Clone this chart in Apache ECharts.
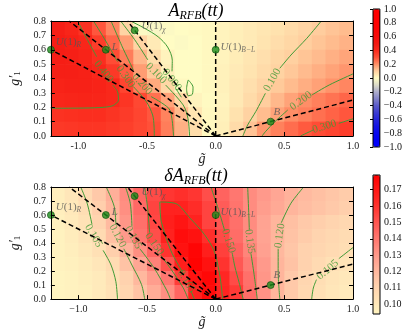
<!DOCTYPE html>
<html>
<head>
<meta charset="utf-8">
<script src="https://cdn.jsdelivr.net/npm/echarts@6/dist/echarts.min.js"></script>
<style>html,body{margin:0;padding:0;background:#fff}#main{width:405px;height:330px}</style>
</head>
<body>
<div id="main"></div>
<script>
// cell centres of the two maps (x = g~, y = g'_1), rows from top to bottom
var gx = [-1.15, -1.05, -0.95, -0.85, -0.75, -0.65, -0.55, -0.45, -0.35, -0.25, -0.15,
          -0.05, 0.05, 0.15, 0.25, 0.35, 0.45, 0.55, 0.65, 0.75, 0.85, 0.95];
var gy = [0.75, 0.65, 0.55, 0.45, 0.35, 0.25, 0.15, 0.05];

// A_RFB(tt)
var aTop = [
  [0.46,0.43,0.38,0.29,0.215,0.09,-0.01,-0.02,-0.01,0.0,0.005,0.01,0.02,0.03,0.04,0.05,0.06,0.075,0.09,0.104,0.118,0.132],
  [0.47,0.45,0.42,0.35,0.265,0.18,0.09,0.04,0.0,-0.01,0.0,0.01,0.02,0.03,0.04,0.055,0.07,0.085,0.102,0.117,0.132,0.147],
  [0.47,0.46,0.44,0.39,0.31,0.23,0.14,0.07,0.02,0.0,0.0,0.01,0.02,0.035,0.05,0.065,0.085,0.10,0.117,0.133,0.15,0.167],
  [0.46,0.46,0.45,0.42,0.36,0.28,0.18,0.11,0.03,0.0,0.0,0.01,0.025,0.04,0.055,0.075,0.094,0.113,0.133,0.152,0.171,0.19],
  [0.44,0.45,0.45,0.44,0.41,0.33,0.23,0.16,0.085,0.01,0.0,0.01,0.025,0.045,0.065,0.09,0.11,0.132,0.153,0.174,0.196,0.215],
  [0.42,0.43,0.435,0.43,0.41,0.37,0.32,0.25,0.17,0.085,0.02,0.005,0.02,0.045,0.075,0.103,0.137,0.17,0.203,0.225,0.245,0.265],
  [0.38,0.385,0.39,0.39,0.375,0.355,0.33,0.29,0.22,0.135,0.05,0.01,0.025,0.06,0.095,0.13,0.17,0.205,0.225,0.25,0.27,0.29],
  [0.36,0.365,0.37,0.37,0.36,0.345,0.325,0.30,0.23,0.15,0.07,0.01,0.03,0.075,0.12,0.187,0.224,0.255,0.285,0.31,0.33,0.35]
];

// deltaA_RFB(tt)
var dBot = [
  [0.097,0.101,0.107,0.114,0.123,0.134,0.145,0.153,0.159,0.161,0.159,0.152,0.146,0.140,0.134,0.130,0.126,0.122,0.119,0.117,0.115,0.113],
  [0.097,0.100,0.105,0.112,0.121,0.133,0.144,0.155,0.166,0.166,0.162,0.155,0.148,0.141,0.134,0.129,0.125,0.121,0.118,0.116,0.114,0.112],
  [0.096,0.099,0.103,0.110,0.119,0.131,0.142,0.154,0.167,0.171,0.166,0.155,0.150,0.142,0.134,0.127,0.121,0.117,0.114,0.112,0.110,0.108],
  [0.095,0.098,0.102,0.107,0.117,0.130,0.141,0.152,0.166,0.174,0.172,0.161,0.153,0.143,0.134,0.127,0.121,0.116,0.113,0.110,0.108,0.106],
  [0.095,0.097,0.100,0.104,0.112,0.122,0.133,0.145,0.160,0.172,0.177,0.167,0.156,0.146,0.136,0.128,0.120,0.115,0.111,0.109,0.107,0.105],
  [0.095,0.096,0.098,0.101,0.106,0.116,0.126,0.137,0.151,0.167,0.178,0.172,0.160,0.149,0.139,0.130,0.121,0.116,0.111,0.107,0.104,0.102],
  [0.094,0.095,0.097,0.099,0.104,0.111,0.120,0.129,0.140,0.157,0.172,0.176,0.164,0.153,0.142,0.131,0.121,0.114,0.109,0.105,0.102,0.100],
  [0.094,0.095,0.096,0.099,0.103,0.109,0.116,0.124,0.133,0.145,0.166,0.175,0.165,0.158,0.143,0.132,0.121,0.114,0.108,0.104,0.101,0.099]
];

// contour lines, split where the level label sits
var topContours = [
  [[-1.006,0.8],[-0.94,0.68],[-0.867,0.552]],
  [[-0.75,0.355],[-0.715,0.309],[-0.708,0.25],[-0.75,0.211],[-0.843,0.198],[-1.0,0.194],[-1.2,0.193]],
  [[-0.89,0.8],[-0.80,0.66],[-0.715,0.518]],
  [[-0.6,0.344],[-0.505,0.239],[-0.459,0.146],[-0.449,0.07],[-0.447,0.0]],
  [[-0.762,0.8],[-0.68,0.62],[-0.6,0.46]],
  [[-0.47,0.274],[-0.342,0.193],[-0.319,0.123],[-0.307,0.0]],
  [[-0.692,0.8],[-0.59,0.67],[-0.494,0.529]],
  [[-0.365,0.355],[-0.237,0.216],[-0.202,0.123],[-0.19,0.0]],
  [[-0.62,0.8],[-0.517,0.749],[-0.419,0.69],[-0.35,0.619],[-0.316,0.527],[-0.318,0.45]],
  [[-0.29,0.33],[-0.25,0.27]],
  [[-0.20,0.39],[-0.165,0.34],[-0.17,0.29],[-0.20,0.28],[-0.212,0.33],[-0.20,0.39]],
  [[0.769,0.8],[0.664,0.68],[0.548,0.563],[0.467,0.471]],
  [[0.362,0.297],[0.292,0.17],[0.233,0.077],[0.198,0.0]],
  [[1.0,0.432],[0.827,0.355],[0.7,0.285]],
  [[0.525,0.181],[0.432,0.1],[0.362,0.03],[0.338,0.0]],
  [[1.0,0.12],[0.897,0.088]],
  [[0.711,0.042],[0.618,0.0]]
];
var botContours = [
  [[-0.983,0.8],[-0.936,0.684],[-0.901,0.533]],
  [[-0.82,0.348],[-0.762,0.243],[-0.727,0.125],[-0.715,0.0]],
  [[-0.797,0.8],[-0.739,0.661],[-0.727,0.533]],
  [[-0.669,0.359],[-0.61,0.243],[-0.54,0.104],[-0.517,0.0]],
  [[-0.657,0.8],[-0.622,0.684],[-0.61,0.522]],
  [[-0.552,0.359],[-0.447,0.22],[-0.354,0.058],[-0.33,0.0]],
  [[-0.517,0.8],[-0.494,0.637],[-0.482,0.475]],
  [[-0.40,0.313],[-0.33,0.22],[-0.237,0.081],[-0.2,0.0]],
  [[-0.237,0.185],[-0.326,0.345],[-0.396,0.554],[-0.407,0.693],[-0.291,0.682],[-0.186,0.577],
   [-0.082,0.461],[-0.012,0.345],[0.023,0.206],[0.04,0.1],[0.05,0.0]],
  [[-0.18,0.058],[-0.156,0.0]],
  [[-0.035,0.8],[0.02,0.64],[0.065,0.49]],
  [[0.12,0.33],[0.14,0.23],[0.17,0.12],[0.2,0.0]],
  [[0.233,0.8],[0.24,0.635],[0.245,0.496]],
  [[0.257,0.324],[0.28,0.174],[0.303,0.0]],
  [[0.641,0.8],[0.548,0.684],[0.478,0.545]],
  [[0.455,0.359],[0.455,0.197],[0.467,0.0]],
  [[1.0,0.368],[0.897,0.289]],
  [[0.734,0.139],[0.711,0.079],[0.699,0.0]]
];

// level labels: x, y, text, angle
var topLevels = [
  [-0.816,0.448,'0.400',-52], [-0.657,0.413,'0.300',-55], [-0.536,0.36,'0.200',-48],
  [-0.435,0.436,'0.100',-46], [-0.319,0.39,'0.000',-52],
  [0.413,0.39,'0.100',60], [0.622,0.244,'0.200',36], [0.792,0.065,'0.300',17]
];
var botLevels = [
  [-0.89,0.452,'0.105',-60], [-0.715,0.452,'0.120',-62], [-0.599,0.44,'0.135',-62],
  [-0.447,0.394,'0.150',-55], [-0.214,0.127,'0.165',-60],
  [0.093,0.415,'0.150',-72], [0.248,0.41,'0.135',-82], [0.467,0.452,'0.120',82],
  [0.816,0.209,'0.105',40]
];

// benchmark models
var ptX = [-1.2, -0.8, -0.59, 0.0, 0.4];
var ptY = [0.6, 0.6, 0.735, 0.6, 0.1];
var ptMain = ['U', 'L', 'U', 'U', 'B'];
var ptSub = ['R', '', 'χ', 'B−L', ''];
// dashed rays from the origin through the models
var rays = [[0, 0.8], [1.0, 0.25], [-1.2, 0.6], [-1.0667, 0.8], [-0.642, 0.8]];

var xTicks = [-1.0, -0.5, 0.0, 0.5, 1.0];
var cbTopTicks = [-1.0, -0.8, -0.6, -0.4, -0.2, 0.0, 0.2, 0.4, 0.6, 0.8, 1.0];
var cbBotTicks = [0.10, 0.11, 0.12, 0.13, 0.14, 0.15, 0.16, 0.17];

var SERIF = 'Liberation Serif';
var GREEN = '#3f9a36';
var labOffs = [[0, -8], [1, -3], [2, -4], [0, -3], [-2, -10]];

function cells(vals) {
  var out = [];
  for (var i = 0; i < gy.length; i++)
    for (var j = 0; j < gx.length; j++) out.push([gx[j], gy[i], vals[i][j]]);
  return out;
}

function cellItem(params, api) {
  var x = api.value(0), y = api.value(1);
  var a = api.coord([x - 0.05, y + 0.05]);
  var b = api.coord([x + 0.05, y - 0.05]);
  return {
    type: 'rect',
    shape: {x: a[0], y: a[1], width: b[0] - a[0] + 0.7, height: b[1] - a[1] + 0.7},
    style: {fill: api.visual('color')}
  };
}

function fmtX(minus) {
  return function (v) {
    var s = Math.abs(v).toFixed(1);
    return v < -1e-9 ? minus + s : s;
  };
}

var nameRich = {
  g: {fontFamily: SERIF, fontStyle: 'italic', fontSize: 14, color: '#222'},
  s: {fontFamily: SERIF, fontSize: 9, color: '#222', padding: [6, 0, 0, 0]}
};

function mainAxes(gi, minus) {
  var line = {onZero: false, lineStyle: {color: '#000', width: 1}};
  var tick = {inside: true, length: 4, lineStyle: {color: '#000'}};
  var lab = {fontFamily: SERIF, fontSize: 10, color: '#222'};
  var xa = [
    {gridIndex: gi, type: 'value', min: -1.2, max: 1.0, position: 'bottom', z: 10,
     axisLine: line, splitLine: {show: false},
     axisTick: Object.assign({customValues: xTicks}, tick),
     axisLabel: Object.assign({customValues: xTicks, margin: 5, formatter: fmtX(minus)}, lab),
     name: 'g\u0303', nameLocation: 'middle', nameGap: 15,
     nameTextStyle: {fontFamily: SERIF, fontStyle: 'italic', fontSize: 14, color: '#222'}},
    {gridIndex: gi, type: 'value', min: -1.2, max: 1.0, position: 'top', z: 10,
     axisLine: line, splitLine: {show: false}, axisLabel: {show: false},
     axisTick: Object.assign({customValues: xTicks}, tick)}
  ];
  var ya = [
    {gridIndex: gi, type: 'value', min: 0, max: 0.8, interval: 0.1, position: 'left', z: 10,
     axisLine: line, splitLine: {show: false}, axisTick: tick,
     axisLabel: Object.assign({margin: 5, formatter: function (v) { return v.toFixed(1); }}, lab),
     name: '{g|g\u2032}{s|1}', nameLocation: 'middle', nameGap: 22, nameRotate: 90,
     nameTextStyle: {rich: nameRich}},
    {gridIndex: gi, type: 'value', min: 0, max: 0.8, interval: 0.1, position: 'right', z: 10,
     axisLine: line, splitLine: {show: false}, axisTick: tick, axisLabel: {show: false}}
  ];
  return {x: xa, y: ya};
}

function cbAxes(gi, min, max, ticks, fmt) {
  return {
    x: {gridIndex: gi, type: 'value', min: 0, max: 1, show: false},
    y: {gridIndex: gi, type: 'value', min: min, max: max, position: 'right', z: 11,
        axisLine: {show: false}, splitLine: {show: false},
        axisTick: {inside: true, length: 3, customValues: ticks, lineStyle: {color: '#000'}},
        axisLabel: {customValues: ticks, margin: 4, formatter: fmt,
                    fontFamily: SERIF, fontSize: 10, color: '#111'}}
  };
}

function overlay(xi, yi, contours, levels) {
  var s = [];
  contours.forEach(function (c) {
    s.push({type: 'line', xAxisIndex: xi, yAxisIndex: yi, data: c, symbol: 'none',
            smooth: 0.3, silent: true, z: 3, lineStyle: {color: GREEN, width: 1}});
  });
  s.push({type: 'scatter', xAxisIndex: xi, yAxisIndex: yi, symbolSize: 0, silent: true, z: 4,
          data: levels.map(function (l) {
            return {value: [l[0], l[1]], label: {formatter: l[2], rotate: l[3]}};
          }),
          label: {show: true, position: 'inside', color: GREEN, fontFamily: SERIF, fontSize: 11}});
  rays.forEach(function (r) {
    s.push({type: 'line', xAxisIndex: xi, yAxisIndex: yi, data: [[0, 0], r], symbol: 'none',
            silent: true, z: 5, lineStyle: {color: '#000', width: 1.5, type: [5, 3]}});
  });
  s.push({type: 'scatter', xAxisIndex: xi, yAxisIndex: yi, clip: false, silent: true, z: 6,
          symbolSize: 7, itemStyle: {color: '#1c8c1c', borderColor: '#0b4d0b', borderWidth: 0.8},
          data: ptX.map(function (x, i) {
            var txt = ptMain[i] === 'U' ? '{m|U}{n|(1)}{s|' + ptSub[i] + '}' : '{m|' + ptMain[i] + '}';
            return {value: [x, ptY[i]],
                    label: {show: true, position: 'right', distance: 1, offset: labOffs[i], formatter: txt}};
          }),
          label: {rich: {
            m: {fontFamily: SERIF, fontStyle: 'italic', fontSize: 11, color: '#555'},
            n: {fontFamily: SERIF, fontSize: 11, color: '#555'},
            s: {fontFamily: SERIF, fontStyle: 'italic', fontSize: 7.5, color: '#555', padding: [7, 0, 0, 0]}
          }}});
  return s;
}

var tA = mainAxes(0, '-');
var tB = mainAxes(1, '\u2212');
var cA = cbAxes(2, -1, 1, cbTopTicks, fmtX('\u2212'));
var cB = cbAxes(3, 0.094, 0.179, cbBotTicks, function (v) { return v.toFixed(2); });

var titleRich = {
  i: {fontFamily: SERIF, fontStyle: 'italic', fontSize: 18, color: '#111'},
  s: {fontFamily: SERIF, fontStyle: 'italic', fontSize: 12, color: '#111', padding: [9, 0, 0, 0]}
};

var option = {
  animation: false,
  backgroundColor: '#fff',
  grid: [
    {left: 38, top: 21, width: 315, height: 115},
    {left: 38, top: 187, width: 315, height: 115},
    {left: 373, top: 9, width: 7, height: 138, show: true, z: 10,
     backgroundColor: 'rgba(0,0,0,0)', borderColor: '#000', borderWidth: 1},
    {left: 373, top: 175, width: 7, height: 139, show: true, z: 10,
     backgroundColor: 'rgba(0,0,0,0)', borderColor: '#000', borderWidth: 1}
  ],
  xAxis: [tA.x[0], tA.x[1], tB.x[0], tB.x[1], cA.x, cB.x],
  yAxis: [tA.y[0], tA.y[1], tB.y[0], tB.y[1], cA.y, cB.y],
  visualMap: [
    {type: 'continuous', seriesIndex: 0, dimension: 2, min: -1, max: 1, calculable: false,
     left: 373, top: 9, itemWidth: 7, itemHeight: 138, padding: 0, z: 4,
     inRange: {color: ['#0000ff','#0000f6','#0808ee','#1414e4','#2626da','#3e3ed2','#5c5cca',
                       '#8484c8','#aeaecc','#dcdcc8','#fffcc4','#ffd0a0','#ff9068','#ff5038',
                       '#fa2a1c','#f41812','#f80c0a','#fc0404','#ff0000','#ff0000','#ff0000']}},
    {type: 'continuous', seriesIndex: 1, dimension: 2, min: 0.094, max: 0.179, calculable: false,
     left: 373, top: 175, itemWidth: 7, itemHeight: 139, padding: 0, z: 4,
     inRange: {color: ['#fff4c0','#ffd2ae','#ffa090','#ff6662','#ff2c28','#ff0000']}}
  ],
  graphic: [
    {type: 'text', x: 196, y: 11, z: 20,
     style: {text: '{i|A}{s|RFB}{i|(tt)}', rich: titleRich, align: 'center', verticalAlign: 'middle'}},
    {type: 'text', x: 196, y: 176, z: 20,
     style: {text: '{i|\u03b4A}{s|RFB}{i|(tt)}', rich: titleRich, align: 'center', verticalAlign: 'middle'}}
  ],
  series: [
    {type: 'custom', xAxisIndex: 0, yAxisIndex: 0, renderItem: cellItem, data: cells(aTop),
     clip: true, silent: true, z: 1, encode: {x: 0, y: 1}},
    {type: 'custom', xAxisIndex: 2, yAxisIndex: 2, renderItem: cellItem, data: cells(dBot),
     clip: true, silent: true, z: 1, encode: {x: 0, y: 1}}
  ].concat(overlay(0, 0, topContours, topLevels), overlay(2, 2, botContours, botLevels))
};

var myChart = echarts.init(document.getElementById('main'));
myChart.setOption(option);
</script>
</body>
</html>
